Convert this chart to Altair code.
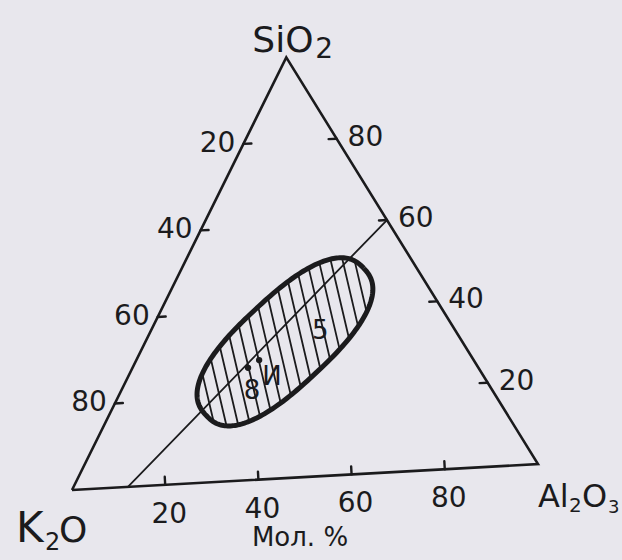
import numpy as np
import pandas as pd
import altair as alt

# ---- composition data, mol. % (K2O, Al2O3, SiO2) ----
tick_values = [20, 40, 60, 80]

# join line from the K2O–Al2O3 side to the SiO2–Al2O3 side
join_k2o = [88, 0]
join_al2o3 = [12, 40]
join_sio2 = [0, 60]

# studied glass compositions (points)
point_k2o = [47.8, 44.5]
point_al2o3 = [25.5, 27.1]
point_sio2 = [26.7, 28.4]

# glass numbers written inside the field
glass_labels = ["8", "И", "5"]
glass_k2o = [49.9, 44.0, 28.1]
glass_al2o3 = [28.9, 31.8, 37.4]
glass_sio2 = [21.2, 24.2, 34.5]

# glass-formation field: centre composition, semi-axes (in side lengths), orientation (deg)
field_center = [36.8, 30.8, 32.4]
field_semi_axes = [0.231, 0.094]
field_angle = 39.8

# vertex names, written piece by piece (main letters and subscripts)
vertex_pieces = ["SiO", "2", "K", "2", "O", "Al", "2", "O", "3"]
vertex_of_piece = [2, 2, 0, 0, 0, 1, 1, 1, 1]   # 0 = K2O, 1 = Al2O3, 2 = SiO2

# ---- drawing geometry ----
TILT = np.deg2rad(3.19)     # the whole diagram sits slightly rotated
APEX_U = 0.51               # horizontal position of the SiO2 apex along the base
HEIGHT = 0.90               # apex height in side lengths
PX = 466.7                  # pixels per side length
SQUARENESS = 2.5            # exponent of the field outline (2 = ellipse)
FONT = "DejaVu Sans"
INK = "#1b1b1d"
PAPER = "#e8e7ed"
W, H = 622, 560
OX, OY = 72, 490            # where the K2O corner sits in the view

# offsets (px) and sizes of the vertex-name pieces
piece_dx = [-34, 29, -56, -27, -13, 0, 31, 44, 70]
piece_dy = [-5, 1, 52, 60, 52, 43, 48, 43, 49]
piece_size = [36, 28, 42, 24, 36, 32, 20, 32, 18]


def to_xy(k, a, s):
    k, a, s = (np.asarray(v, dtype=float) for v in (k, a, s))
    tot = k + a + s
    a, s = a / tot, s / tot
    u = a + APEX_U * s
    v = HEIGHT * s
    x = u * np.cos(TILT) - v * np.sin(TILT)
    y = u * np.sin(TILT) + v * np.cos(TILT)
    return x, y


def rot(vx, vy, ang):
    return vx * np.cos(ang) - vy * np.sin(ang), vx * np.sin(ang) + vy * np.cos(ang)


# triangle outline: K2O -> Al2O3 -> SiO2 -> K2O
tx, ty = to_xy([100, 0, 0, 100], [0, 100, 0, 0], [0, 0, 100, 0])
tri = pd.DataFrame({"x": tx, "y": ty, "i": range(4)})

# edge ticks (pointing inward) and their labels
TL = 8 / PX
rows, labels = [], []
tv = np.array(tick_values, dtype=float)
edges = [
    ("base", to_xy(100 - tv, tv, 0 * tv), rot(0.0, 1.0, TILT)),     # Al2O3 grows to the right
    ("left", to_xy(tv, 0 * tv, 100 - tv), rot(1.0, 0.0, TILT)),     # K2O grows downwards
    ("right", to_xy(0 * tv, 100 - tv, tv), rot(-1.0, 0.0, TILT)),   # SiO2 grows upwards
]
for side, (ex_, ey_), (ddx, ddy) in edges:
    for x0, y0, t in zip(ex_, ey_, tick_values):
        rows.append({"x": x0, "y": y0, "x2": x0 + TL * ddx, "y2": y0 + TL * ddy})
        labels.append({"x": x0, "y": y0, "t": str(t), "side": side})
ticks = pd.DataFrame(rows)
tick_labels = pd.DataFrame(labels)

# join line
jx, jy = to_xy(join_k2o, join_al2o3, join_sio2)
join = pd.DataFrame({"x": [jx[0]], "y": [jy[0]], "x2": [jx[1]], "y2": [jy[1]]})

# points and glass numbers
px_, py_ = to_xy(point_k2o, point_al2o3, point_sio2)
pts = pd.DataFrame({"x": px_, "y": py_})
gx, gy = to_xy(glass_k2o, glass_al2o3, glass_sio2)
glass = pd.DataFrame({"x": gx, "y": gy, "t": glass_labels})

# field outline (super-ellipse)
cx, cy = to_xy(*field_center)
cx, cy = float(cx), float(cy)
A, B = field_semi_axes
phi = np.deg2rad(field_angle) + TILT
th = np.linspace(0, 2 * np.pi, 241)
c, s = np.cos(th), np.sin(th)
lx_ = A * np.sign(c) * np.abs(c) ** (2 / SQUARENESS)
ly_ = B * np.sign(s) * np.abs(s) ** (2 / SQUARENESS)
ex, ey = rot(lx_, ly_, phi)
field = pd.DataFrame({"x": cx + ex, "y": cy + ey, "i": range(len(th))})

# hatching inside the field, clipped to the outline
hang = np.deg2rad(100.0) + TILT
d = np.array([np.cos(hang), np.sin(hang)])
n = np.array([d[1], -d[0]])
step = 11.6 / PX
tt = np.linspace(-0.3, 0.3, 3001)
hrows = []
for o in np.arange(-0.25, 0.25 + 1e-9, step) + step / 2:
    qx = o * n[0] + tt * d[0]
    qy = o * n[1] + tt * d[1]
    fx, fy = rot(qx, qy, -phi)
    inside = (np.abs(fx / A) ** SQUARENESS + np.abs(fy / B) ** SQUARENESS) <= 1
    if inside.sum() < 3:
        continue
    t1, t2 = tt[inside][0], tt[inside][-1]
    hrows.append({"x": cx + o * n[0] + t1 * d[0], "y": cy + o * n[1] + t1 * d[1],
                  "x2": cx + o * n[0] + t2 * d[0], "y2": cy + o * n[1] + t2 * d[1]})
hatch = pd.DataFrame(hrows)

# vertex names and axis caption
vx, vy = to_xy([100, 0, 0], [0, 100, 0], [0, 0, 100])
mx, my = to_xy([50], [50], [0])
cap = pd.DataFrame({"x": mx, "y": my, "t": ["Мол. %"]})

xs = alt.Scale(domain=[-OX / PX, (W - OX) / PX], nice=False, zero=False)
ys = alt.Scale(domain=[(OY - H) / PX, OY / PX], nice=False, zero=False)
X = alt.X("x:Q", scale=xs, axis=None)
Y = alt.Y("y:Q", scale=ys, axis=None)


def seg(df, width):
    return alt.Chart(df).mark_rule(color=INK, strokeWidth=width, strokeCap="round").encode(
        x=X, y=Y, x2="x2:Q", y2="y2:Q")


def txt(df, size, **kw):
    return alt.Chart(df).mark_text(font=FONT, fontSize=size, color=INK, **kw).encode(
        x=X, y=Y, text="t:N")


triangle = alt.Chart(tri).mark_line(color=INK, strokeWidth=2.6, strokeJoin="miter").encode(
    x=X, y=Y, order="i:Q")
outline = alt.Chart(field).mark_line(color=INK, strokeWidth=5).encode(x=X, y=Y, order="i:Q")
dots = alt.Chart(pts).mark_point(filled=True, color=INK, size=40, opacity=1).encode(x=X, y=Y)

base_lab = txt(tick_labels[tick_labels.side == "base"], 28, align="center", baseline="middle", dx=4, dy=30)
left_lab = txt(tick_labels[tick_labels.side == "left"], 28, align="right", baseline="middle", dx=-8, dy=0)
right_lab = txt(tick_labels[tick_labels.side == "right"], 28, align="left", baseline="middle", dx=11, dy=-1)

piece_layers = []
for p, vi, pdx, pdy, psz in zip(vertex_pieces, vertex_of_piece, piece_dx, piece_dy, piece_size):
    dfp = pd.DataFrame({"x": [vx[vi]], "y": [vy[vi]], "t": [p]})
    piece_layers.append(txt(dfp, psz, align="left", baseline="alphabetic", dx=pdx, dy=pdy))

cap_lab = txt(cap, 26, align="center", baseline="middle", dx=-5, dy=61)
glass_lab = txt(glass, 26, align="center", baseline="middle")

chart = alt.layer(
    seg(hatch, 1.8), seg(join, 1.8), outline, triangle, seg(ticks, 2.4), dots,
    base_lab, left_lab, right_lab, *piece_layers, cap_lab, glass_lab,
).properties(
    width=W, height=H, autosize=alt.AutoSizeParams(type="none"), padding=0,
    background=PAPER,
).configure_view(stroke=None)

chart.save("out.html", embed_options={"renderer": "svg", "actions": False})
